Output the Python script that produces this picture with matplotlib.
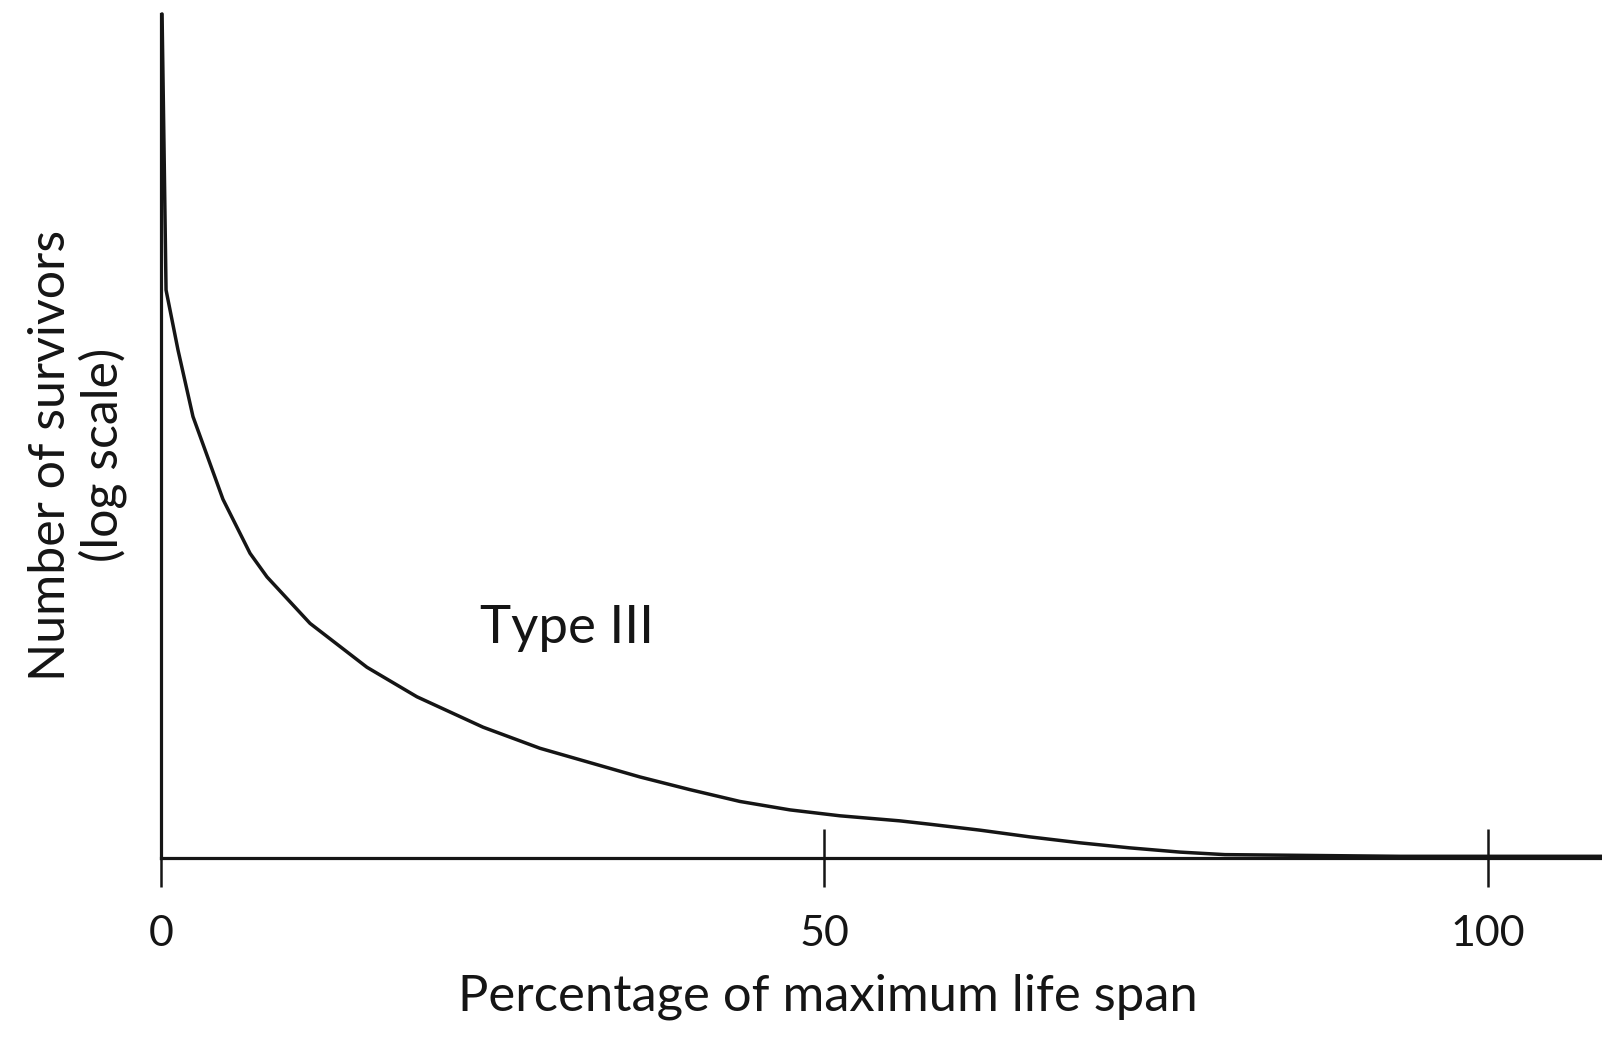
import matplotlib
matplotlib.use("Agg")
import matplotlib.pyplot as plt

# Type III survivorship curve
pct_life_span = [0.08, 0.23, 0.38, 1.28, 2.41, 4.67, 6.71, 7.99, 11.23, 15.52,
                 19.29, 24.27, 28.56, 32.33, 36.10, 39.86, 43.63, 47.40,
                 51.17, 55.69, 57.95, 61.72, 65.49, 69.25, 73.02, 76.79,
                 80.18, 93.37, 108.6]
survivors = [1.0, 0.839, 0.673, 0.602, 0.523, 0.425, 0.361, 0.333, 0.278, 0.226,
             0.191, 0.155, 0.130, 0.113, 0.096, 0.081, 0.067, 0.057,
             0.050, 0.044, 0.040, 0.033, 0.025, 0.018, 0.012, 0.007,
             0.004, 0.002, 0.002]

x_ticks = [0, 50, 100]
x_tick_labels = ["0", "50", "100"]

ink = "#151515"
plt.rcParams["font.family"] = ["Lato", "DejaVu Sans"]

fig = plt.figure(figsize=(16.02, 10.43), dpi=100)
ax = fig.add_axes([161 / 1602, 185 / 1043, 1441 / 1602, 844 / 1043])

ax.plot(pct_life_span, survivors, color=ink, linewidth=2.5,
        solid_capstyle="round", solid_joinstyle="round", clip_on=False)

ax.set_xlim(0, 108.6)
ax.set_ylim(0, 1.0)

# only left and bottom axis lines, like a sketched graph
for side in ("top", "right"):
    ax.spines[side].set_visible(False)
for side in ("left", "bottom"):
    ax.spines[side].set_color(ink)
    ax.spines[side].set_linewidth(2.3)

ax.set_xticks(x_ticks)
ax.set_xticklabels(x_tick_labels, fontsize=31, color=ink)
ax.tick_params(axis="x", direction="inout", length=42, width=1.8,
               color=ink, pad=20)
ax.set_yticks([])

ax.set_xlabel("Percentage of maximum life span", fontsize=36.5, color=ink)
ax.xaxis.set_label_coords(0.463, -0.164)
ax.xaxis.label.set_va("center")
ax.set_ylabel("Number of survivors\n(log scale)", fontsize=36,
              color=ink, va="center", linespacing=1.1)
ax.yaxis.set_label_coords(-0.058, 0.4775)

ax.text(30.6, 0.2725, "Type III", fontsize=38,
        color=ink, ha="center", va="center")

fig.savefig("out.png", dpi=100, facecolor="white")
